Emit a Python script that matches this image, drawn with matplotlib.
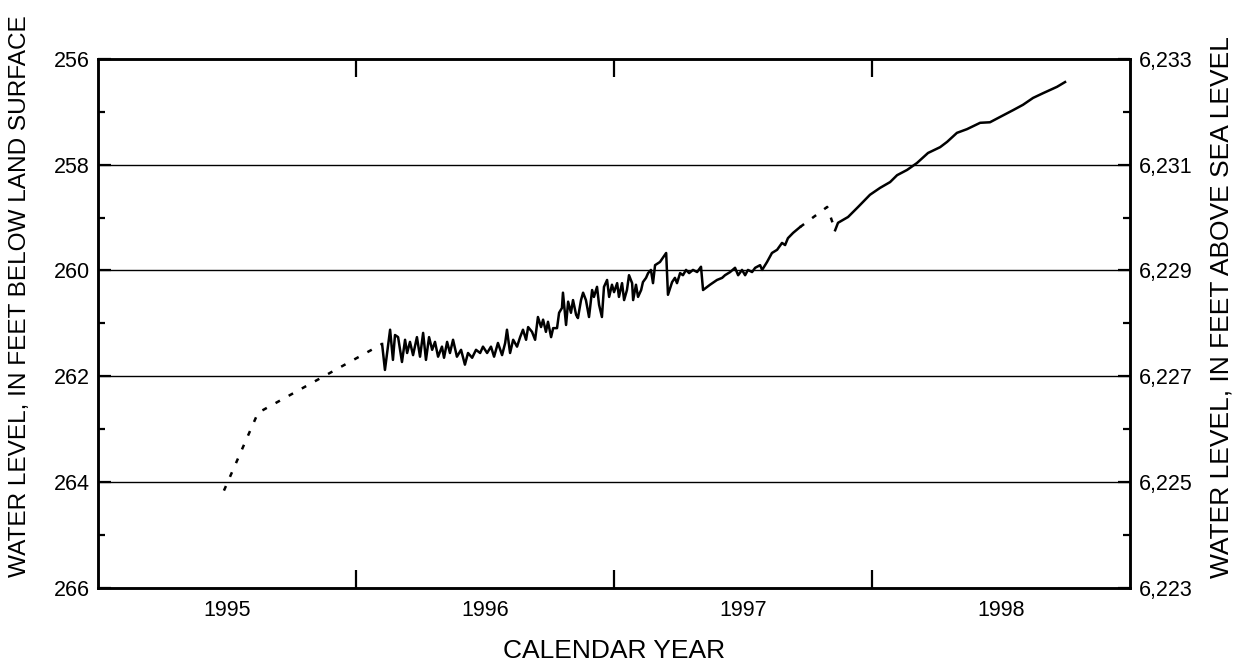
import matplotlib
matplotlib.use("Agg")
import matplotlib.pyplot as plt
from matplotlib.ticker import FixedLocator, FuncFormatter, NullFormatter

plt.rcParams['font.family'] = ['Liberation Sans', 'DejaVu Sans']

# Estimated record 1 (dotted, early 1995 to early 1996)
est1_year = [1995.488, 1995.620, 1996.101]
est1_depth = [264.16, 262.69, 261.39]

# Measured record 1 (solid, 1996.1 - 1997.72)
meas1_year = [1996.101, 1996.112, 1996.132, 1996.143, 1996.151, 1996.163, 1996.178, 1996.190,
              1996.198, 1996.209, 1996.221, 1996.236, 1996.248, 1996.260, 1996.271, 1996.283,
              1996.295, 1996.306, 1996.318, 1996.333, 1996.341, 1996.353, 1996.364, 1996.376,
              1996.391, 1996.407, 1996.422, 1996.434, 1996.450, 1996.465, 1996.481, 1996.492,
              1996.508, 1996.523, 1996.535, 1996.550, 1996.566, 1996.578, 1996.585, 1996.597,
              1996.609, 1996.624, 1996.636, 1996.647, 1996.659, 1996.667, 1996.682, 1996.694,
              1996.705, 1996.717, 1996.725, 1996.736, 1996.744, 1996.756, 1996.764, 1996.779,
              1996.787, 1996.798, 1996.802, 1996.814, 1996.822, 1996.833, 1996.841, 1996.853,
              1996.860, 1996.872, 1996.880, 1996.891, 1996.903, 1996.915, 1996.922, 1996.934,
              1996.942, 1996.953, 1996.961, 1996.973, 1996.981, 1996.992, 1997.000, 1997.012,
              1997.019, 1997.031, 1997.039, 1997.050, 1997.058, 1997.070, 1997.074, 1997.085,
              1997.093, 1997.105, 1997.112, 1997.124, 1997.132, 1997.143, 1997.151, 1997.159,
              1997.178, 1997.202, 1997.209, 1997.225, 1997.236, 1997.244, 1997.256, 1997.267,
              1997.279, 1997.291, 1997.306, 1997.322, 1997.337, 1997.345, 1997.372, 1997.399,
              1997.419, 1997.430, 1997.450, 1997.469, 1997.481, 1997.496, 1997.508, 1997.519,
              1997.535, 1997.547, 1997.566, 1997.574, 1997.593, 1997.612, 1997.632, 1997.651,
              1997.663, 1997.674, 1997.694, 1997.721]
meas1_depth = [261.39, 261.88, 261.12, 261.69, 261.22, 261.26, 261.73, 261.31,
               261.56, 261.35, 261.60, 261.26, 261.63, 261.18, 261.69, 261.26,
               261.50, 261.35, 261.63, 261.44, 261.65, 261.35, 261.56, 261.31,
               261.63, 261.50, 261.78, 261.56, 261.65, 261.50, 261.56, 261.44,
               261.56, 261.44, 261.63, 261.37, 261.60, 261.37, 261.12, 261.56,
               261.31, 261.44, 261.26, 261.12, 261.31, 261.07, 261.16, 261.31,
               260.88, 261.07, 260.93, 261.16, 260.97, 261.26, 261.09, 261.09,
               260.80, 260.71, 260.42, 261.03, 260.59, 260.80, 260.56, 260.84,
               260.90, 260.56, 260.42, 260.56, 260.88, 260.37, 260.50, 260.31,
               260.65, 260.88, 260.31, 260.18, 260.50, 260.27, 260.41, 260.24,
               260.50, 260.24, 260.56, 260.37, 260.09, 260.24, 260.56, 260.27,
               260.50, 260.37, 260.22, 260.14, 260.05, 259.99, 260.24, 259.90,
               259.84, 259.67, 260.46, 260.22, 260.14, 260.24, 260.05, 260.09,
               259.99, 260.05, 259.99, 260.03, 259.93, 260.37, 260.27, 260.18,
               260.14, 260.09, 260.03, 259.95, 260.09, 259.99, 260.09, 259.99,
               260.03, 259.95, 259.90, 259.99, 259.84, 259.67, 259.61, 259.48,
               259.52, 259.39, 259.29, 259.18]

# Estimated record 2 (dotted gap, late 1997)
est2_year = [1997.721, 1997.826, 1997.857]
est2_depth = [259.18, 258.80, 259.24]

# Measured record 2 (solid, late 1997 - 1998)
meas2_year = [1997.857, 1997.868, 1997.907, 1997.946, 1997.992, 1998.031, 1998.070, 1998.097,
              1998.136, 1998.174, 1998.217, 1998.264, 1998.291, 1998.329, 1998.368, 1998.419,
              1998.457, 1998.496, 1998.547, 1998.585, 1998.624, 1998.663, 1998.717, 1998.748]
meas2_depth = [259.24, 259.10, 258.99, 258.80, 258.57, 258.44, 258.33, 258.20,
               258.10, 257.97, 257.78, 257.67, 257.57, 257.40, 257.33, 257.21,
               257.20, 257.10, 256.97, 256.87, 256.74, 256.65, 256.53, 256.44]

year_labels = ['1995', '1996', '1997', '1998']
land_surface_elev = 6489  # ft above sea level

fig = plt.figure(figsize=(12.41, 6.64), dpi=100)
ax = fig.add_axes([0.079, 0.1145, 0.8316, 0.797])

lw = 1.8
ax.plot(est1_year, est1_depth, color='black', lw=lw, linestyle=(0, (2.0, 4.0)))
ax.plot(meas1_year, meas1_depth, color='black', lw=lw)
ax.plot(est2_year, est2_depth, color='black', lw=lw, linestyle=(0, (2.0, 4.0)))
ax.plot(meas2_year, meas2_depth, color='black', lw=lw)

ax.set_xlim(1995, 1999)
ax.set_ylim(266, 256)

# x ticks: boundaries as marks, labels centered in year
ax.xaxis.set_major_locator(FixedLocator([1996, 1997, 1998]))
ax.xaxis.set_major_formatter(NullFormatter())
ax.xaxis.set_minor_locator(FixedLocator([1995.5, 1996.5, 1997.5, 1998.5]))
ax.xaxis.set_minor_formatter(FuncFormatter(lambda v, p: year_labels[int(v - 1995)]))
ax.tick_params(axis='x', which='major', direction='in', length=13, width=1.6, top=True, bottom=True)
ax.tick_params(axis='x', which='minor', length=0, pad=9, labelsize=15.5)

ax.set_yticks([256, 258, 260, 262, 264, 266])
ax.set_yticks([257, 259, 261, 263, 265], minor=True)
ax.tick_params(axis='y', which='major', direction='in', length=9, width=1.6, labelsize=15.5, pad=6)
ax.tick_params(axis='y', which='minor', direction='in', length=5, width=1.6)

for y in [258, 260, 262, 264]:
    ax.axhline(y, color='black', lw=1.0, zorder=0)

for s in ax.spines.values():
    s.set_linewidth(1.8)

ax.set_xlabel('CALENDAR YEAR', fontsize=19)
ax.xaxis.set_label_coords(0.5, -0.119)
ax.xaxis.label.set_va('center')
ax.set_ylabel('WATER LEVEL, IN FEET BELOW LAND SURFACE', fontsize=17.6)
ax.yaxis.set_label_coords(-0.0756, 0.552)
ax.yaxis.label.set_va('center')

ax2 = ax.twinx()
ax2.set_ylim(land_surface_elev - 266, land_surface_elev - 256)
ax2.set_yticks([6223, 6225, 6227, 6229, 6231, 6233])
ax2.set_yticks([6224, 6226, 6228, 6230, 6232], minor=True)
ax2.yaxis.set_major_formatter(FuncFormatter(lambda v, p: f'{int(round(v)):,}'))
ax2.tick_params(axis='y', which='major', direction='in', length=9, width=1.6, labelsize=15.5, pad=6)
ax2.tick_params(axis='y', which='minor', direction='in', length=5, width=1.6)
for s in ax2.spines.values():
    s.set_linewidth(1.8)
ax2.set_ylabel('WATER LEVEL, IN FEET ABOVE SEA LEVEL', fontsize=19)
ax2.yaxis.set_label_coords(1.089, 0.531)
ax2.yaxis.label.set_va('center')

fig.savefig('out.png', dpi=100)
